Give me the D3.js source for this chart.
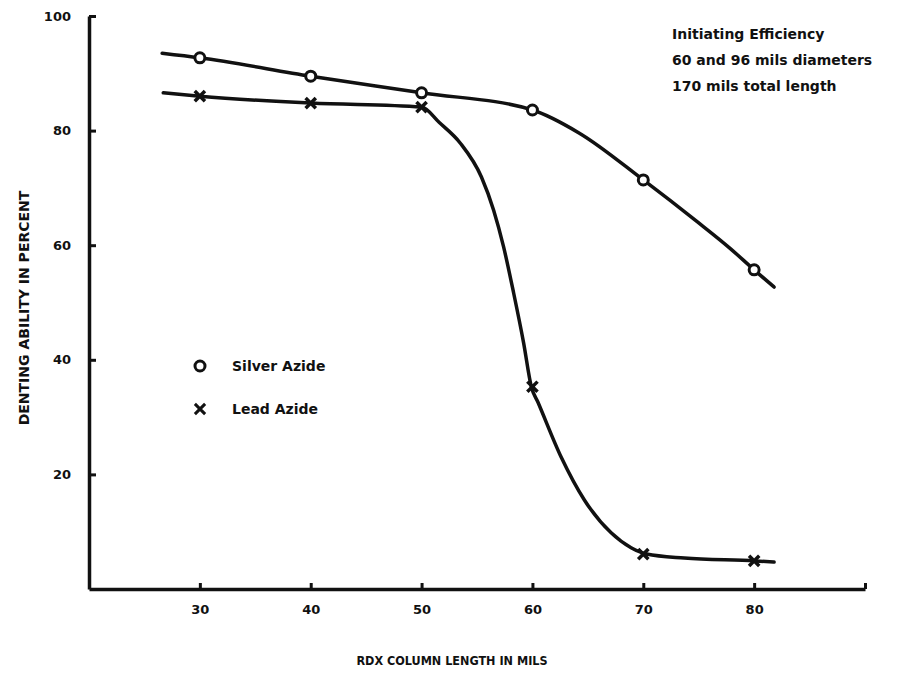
<!DOCTYPE html>
<html>
<head>
<meta charset="utf-8">
<script src="https://cdn.jsdelivr.net/npm/d3@7"></script>
<style>
  body { margin: 0; background: #fff; }
  text { font-family: "DejaVu Sans", sans-serif; font-weight: bold; fill: #111; }
</style>
</head>
<body>
<div class="chart"></div>
<script>
// values
let mils = [30, 40, 50, 60, 70, 80];
let silverAzide = [92.7, 89.5, 86.6, 83.6, 71.4, 55.7];
let leadAzide = [86.0, 84.8, 84.1, 35.3, 6.1, 4.9];

// hand-drawn curves [mils, percent]
let silverCurve = [[26.6, 93.5], [30, 92.7], [40, 89.5], [50, 86.6], [60, 83.6], [64.2, 79.6],
	[70, 71.4], [74.8, 64.2], [77.8, 59.5], [80, 55.7], [81.8, 52.7]];
let leadCurve = [[26.7, 86.6], [30, 86.0], [40, 84.8], [50, 84.1], [51.6, 81.4], [53.5, 77.8],
	[55.4, 71.9], [56.5, 66.1], [57.4, 59.7], [58.3, 51.7], [59.2, 43.0], [59.9, 35.3], [60.5, 32.6],
	[62.6, 23.0], [64.7, 15.5], [67.1, 9.8], [68.9, 7.2], [70.3, 6.1], [73.7, 5.4], [80.1, 4.9], [81.8, 4.7]];

let xTicks = [30, 40, 50, 60, 70, 80, 90];
let yTicks = [20, 40, 60, 80, 100];
let notes = ['Initiating Efficiency', '60 and 96 mils diameters', '170 mils total length'];
let legendNames = ['Silver Azide', 'Lead Azide'];
let xTitle = 'RDX COLUMN LENGTH IN MILS';
let yTitle = 'DENTING ABILITY IN PERCENT';

let svg = d3.select('.chart')
	.append('svg')
	.attr('width', 900)
	.attr('height', 682);

let xScale = d3.scaleLinear().domain([20, 90]).range([89, 865]);
let yScale = d3.scaleLinear().domain([0, 100]).range([589, 16]);

let xAxis = d3.axisBottom(xScale)
	.tickValues(xTicks)
	.tickFormat(d => d === 90 ? '' : d)
	.tickSizeInner(-6)
	.tickSizeOuter(0)
	.tickPadding(16);

let yAxis = d3.axisLeft(yScale)
	.tickValues(yTicks)
	.tickSizeInner(-7)
	.tickSizeOuter(0)
	.tickPadding(18);

let gx = svg.append('g')
	.attr('transform', 'translate(0, ' + yScale(0) + ')')
	.call(xAxis);
let gy = svg.append('g')
	.attr('transform', 'translate(' + xScale(20) + ', 0)')
	.call(yAxis);

[gx, gy].forEach(g => {
	g.select('.domain').attr('stroke', '#111').attr('stroke-width', 3.5);
	g.selectAll('.tick line').attr('stroke', '#111').attr('stroke-width', 3);
	g.selectAll('.tick text')
		.style('font-family', '"DejaVu Sans", sans-serif')
		.style('font-weight', 'bold')
		.style('font-size', '13px')
		.attr('fill', '#111');
});

let line = d3.line()
	.x(d => xScale(d[0]))
	.y(d => yScale(d[1]))
	.curve(d3.curveMonotoneX);

svg.append('path')
	.datum(silverCurve)
	.attr('d', line)
	.attr('fill', 'none')
	.attr('stroke', '#111')
	.attr('stroke-width', 3.5)
	.attr('stroke-linecap', 'round');

svg.append('path')
	.datum(leadCurve)
	.attr('d', line)
	.attr('fill', 'none')
	.attr('stroke', '#111')
	.attr('stroke-width', 3.5)
	.attr('stroke-linecap', 'round');

svg.selectAll('.silver')
	.data(mils)
	.enter()
	.append('circle')
	.attr('class', 'silver')
	.attr('cx', d => xScale(d))
	.attr('cy', (d, i) => yScale(silverAzide[i]))
	.attr('r', 5)
	.attr('fill', '#fff')
	.attr('stroke', '#111')
	.attr('stroke-width', 3);

let cross = d3.symbol().type(d3.symbolX).size(70);
svg.selectAll('.lead')
	.data(mils)
	.enter()
	.append('path')
	.attr('class', 'lead')
	.attr('d', cross)
	.attr('transform', (d, i) => 'translate(' + xScale(d) + ',' + yScale(leadAzide[i]) + ')')
	.attr('fill', 'none')
	.attr('stroke', '#111')
	.attr('stroke-width', 3.5);

// notes top right
svg.selectAll('.note')
	.data(notes)
	.enter()
	.append('text')
	.attr('class', 'note')
	.attr('x', 672)
	.attr('y', (d, i) => 39 + i * 26)
	.style('font-size', '14px')
	.text(d => d);

// legend
let legend = svg.append('g').attr('transform', 'translate(200, 366)');
legend.append('circle')
	.attr('r', 5)
	.attr('fill', '#fff')
	.attr('stroke', '#111')
	.attr('stroke-width', 3);
legend.append('path')
	.attr('d', cross)
	.attr('transform', 'translate(0, 43)')
	.attr('fill', 'none')
	.attr('stroke', '#111')
	.attr('stroke-width', 3);
legend.selectAll('text')
	.data(legendNames)
	.enter()
	.append('text')
	.attr('x', 32)
	.attr('y', (d, i) => 5 + i * 43)
	.style('font-size', '14px')
	.text(d => d);

// axis titles
svg.append('text')
	.attr('x', 452)
	.attr('y', 665)
	.attr('text-anchor', 'middle')
	.style('font-family', '"DejaVu Sans Condensed", "DejaVu Sans", sans-serif')
	.style('font-size', '12.5px')
	.text(xTitle);

svg.append('text')
	.attr('transform', 'translate(29, 308) rotate(-90)')
	.attr('text-anchor', 'middle')
	.style('font-size', '14px')
	.text(yTitle);
</script>
</body>
</html>
